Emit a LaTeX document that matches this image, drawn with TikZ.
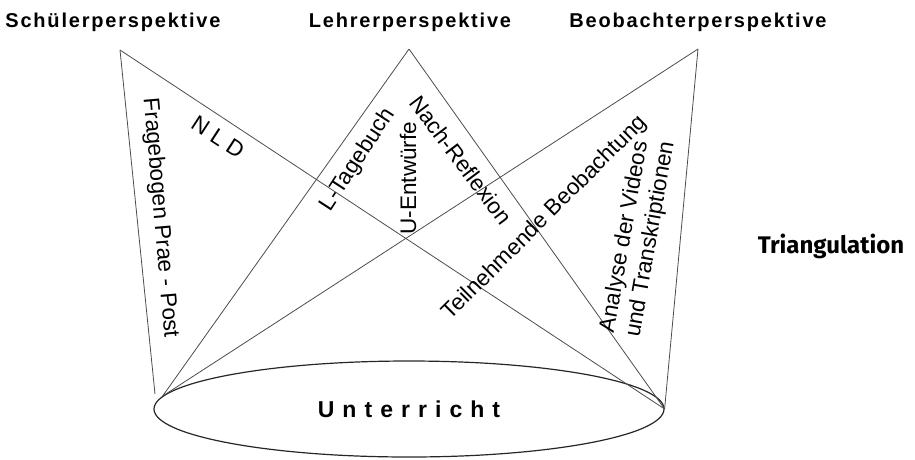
\documentclass[tikz,border=0pt]{standalone}
\usepackage{fontspec}
\setmainfont{Liberation Sans}
\newfontfamily\trifont{Fira Sans}
\usetikzlibrary{shapes.geometric}

\begin{document}
\begin{tikzpicture}[
    x=1pt, y=-1pt,
    edge/.style={draw=black!70, line width=0.8pt},
    lbl/.style={font=\fontsize{22.5}{26}\selectfont, inner sep=0pt},
    title/.style={font=\fontsize{20}{24}\selectfont\bfseries\addfontfeature{LetterSpace=9}, anchor=base, inner sep=0pt},
    base/.style={ellipse, draw=black!85, line width=1.2pt, minimum width=510pt, minimum height=96pt,
        font=\fontsize{23}{26}\selectfont\bfseries\addfontfeature{LetterSpace=35}}
]
\useasboundingbox (0,0) rectangle (915,459);

% --- Perspective titles ---
\node[title] (ts) at (113,27) {Schülerperspektive};
\node[title] (tl) at (410,27) {Lehrerperspektive};
\node[title] (tb) at (698,27) {Beobachterperspektive};
\node[title, font=\fontsize{24}{28}\selectfont\trifont\bfseries] (tri) at (831,253) {Triangulation};

% --- Lesson (base of the cones) ---
\node[base] (u) at (409,409) {Unterricht};

% --- Apexes ---
\coordinate (top-s) at (120,50);
\coordinate (top-l) at (409,49);
\coordinate (top-b) at (698,49);
\coordinate (foot-s) at (155,394);

% --- Cones ---
\foreach \p in {l,b}
{
    \draw[edge] (top-\p) -- (u.177);
}
\foreach \p in {s,l,b}
{
    \draw[edge] (top-\p) -- (u.east);
}
\draw[edge] (top-s) -- (foot-s);

% --- Methods ---
\node[lbl, rotate=-85] (fb) at (160,218) {Fragebogen Prae - Post};
\node[lbl, rotate=-33] (nld) at (218,137) {N L D};
\node[lbl, rotate=57] (lt) at (358,160) {L-Tagebuch};
\node[lbl, rotate=90] (ue) at (408,178) {U-Entwürfe};
\node[lbl, rotate=-53] (nr) at (461,160) {Nach-Reflexion};
\node[lbl, rotate=45] (bo) at (545,218) {Teilnehmende Beobachtung};
\node[lbl, rotate=80, align=left] (av) at (638,237) {Analyse der Videos\\und Transkriptionen};

\end{tikzpicture}
\end{document}
